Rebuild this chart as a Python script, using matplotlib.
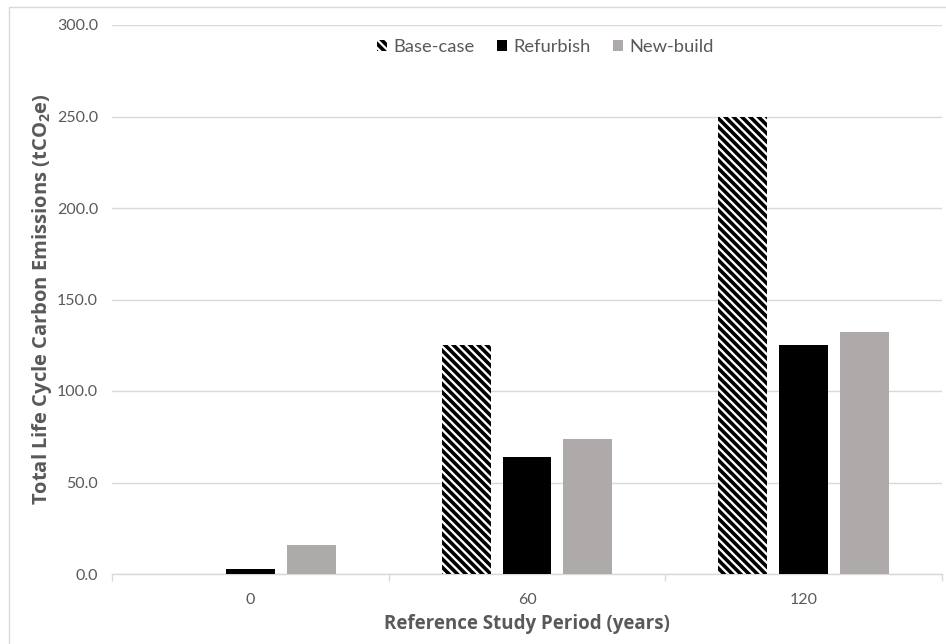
import matplotlib
matplotlib.use("Agg")
import matplotlib.pyplot as plt
import numpy as np
from matplotlib.patches import Rectangle

categories = ["0", "60", "120"]
series_names = ["Base-case", "Refurbish", "New-build"]
base_case = [0.0, 125.0, 250.0]
refurbish = [2.5, 64.0, 125.0]
new_build = [16.0, 74.0, 132.0]
y_ticks = [0, 50, 100, 150, 200, 250, 300]

plt.rcParams['font.family'] = ['Lato', 'DejaVu Sans']
plt.rcParams['mathtext.default'] = 'regular'
plt.rcParams['hatch.linewidth'] = 2.6

W, H = 946, 644
fig = plt.figure(figsize=(W / 100, H / 100), dpi=100)
ax = fig.add_axes([112 / W, 1 - 574 / H, (942 - 112) / W, (574 - 25) / H])

gray_txt = '#595959'
x = np.arange(len(categories))
bw = 49 / 277
gap = 12 / 277
offsets = [-(bw + gap), 0, bw + gap]

ax.bar(x + offsets[0], base_case, bw, color='white', edgecolor='black',
       hatch='\\\\\\\\', linewidth=0, label=series_names[0], zorder=3)
ax.bar(x + offsets[1], refurbish, bw, color='black', label=series_names[1], zorder=3)
ax.bar(x + offsets[2], new_build, bw, color='#AEAAAA', label=series_names[2], zorder=3)

ax.set_xlim(-0.5, len(categories) - 0.5)
ax.set_ylim(0, 300)
ax.set_yticks(y_ticks)
ax.set_yticklabels([f"{v:.1f}" for v in y_ticks])
ax.set_xticks(x)
ax.set_xticklabels(categories)
ax.set_xticks(np.arange(len(categories) + 1) - 0.5, minor=True)
ax.tick_params(axis='x', which='major', length=0, pad=14, labelsize=11.5, labelcolor=gray_txt)
ax.tick_params(axis='x', which='minor', length=5, color='#D9D9D9', width=1)
ax.tick_params(axis='y', length=0, pad=10, labelsize=11.5, labelcolor=gray_txt)
ax.grid(axis='y', color='#D9D9D9', linewidth=1, zorder=0)
for s in ['top', 'right', 'left']:
    ax.spines[s].set_visible(False)
ax.spines['bottom'].set_color('#D9D9D9')
ax.spines['bottom'].set_linewidth(1)

lab_font = ['Open Sans', 'DejaVu Sans']
ax.set_xlabel('Reference Study Period (years)', fontsize=13.5, fontweight='bold',
              color=gray_txt, labelpad=5, family=lab_font)
ax.set_ylabel('Total Life Cycle Carbon Emissions (tCO$_2$e)', fontsize=14.5, fontweight='bold',
              color=gray_txt, labelpad=2, family=lab_font)

leg = ax.legend(loc='upper center', bbox_to_anchor=(0.522, 1.005), ncol=3, frameon=False,
                fontsize=13.2, handlelength=0.55, handleheight=0.55, handletextpad=0.35,
                columnspacing=1.2, labelcolor=gray_txt)

fig.patches.append(Rectangle((9 / W, -0.1), 1.2, 1 - 7 / H + 0.1, transform=fig.transFigure,
                             fill=False, edgecolor='#D9D9D9', linewidth=1))

fig.savefig('out.png', dpi=100)
